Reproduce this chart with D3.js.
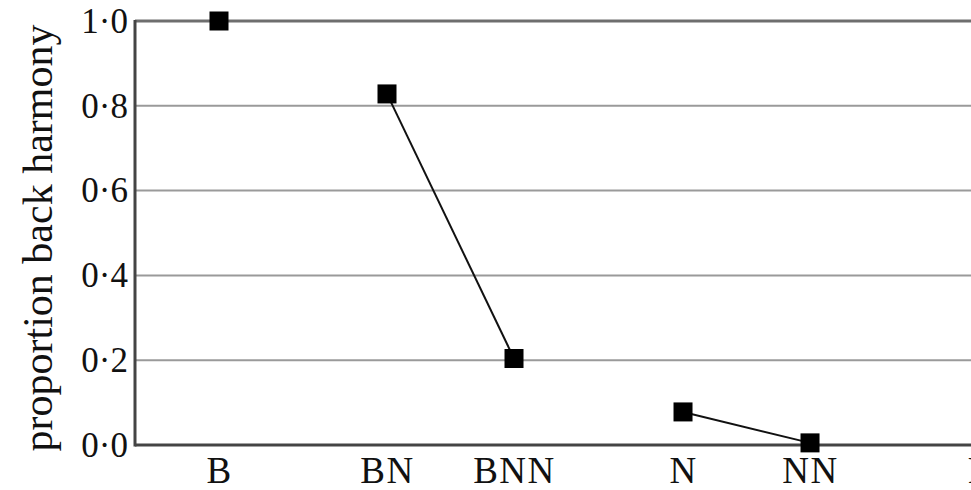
<!DOCTYPE html>
<html>
<head>
<meta charset="utf-8">
<script src="https://cdn.jsdelivr.net/npm/d3@7"></script>
<style>
	body { margin: 0; background: #fff; }
	svg text { font-family: "Liberation Serif", "Times New Roman", serif; fill: #111; }
</style>
</head>
<body>
<svg id="chart"></svg>
<script>
/* Data */

var categories = ["B", "BN", "BNN", "N", "NN", "P"];
var positions = [1, 2, 2.756, 3.762, 4.518, 5.52];
var values = [1.0, 0.828, 0.204, 0.078, 0.005];
var segments = [[1, 2], [3, 4]];   // index pairs joined by a line
var yTicks = [0, 0.2, 0.4, 0.6, 0.8, 1.0];
var yTickLabels = ["0·0", "0·2", "0·4", "0·6", "0·8", "1·0"];

/* Layout */

var W = 971, H = 490;
var margin = {top: 21, left: 135, bottom: 45};

var svg = d3.select("#chart")
	.attr("width", W)
	.attr("height", H);

var x = d3.scaleLinear()
	.domain([0.5, 5.5])
	.range([margin.left, margin.left + 840]);

var y = d3.scaleLinear()
	.domain([0, 1])
	.range([H - margin.bottom, margin.top]);

/* Gridlines */

svg.append("g")
	.selectAll("line")
	.data(yTicks.filter(function(d){ return d > 0; }))
	.enter().append("line")
	.attr("x1", margin.left)
	.attr("x2", W)
	.attr("y1", function(d){ return y(d); })
	.attr("y2", function(d){ return y(d); })
	.attr("stroke", function(d){ return d === 1 ? "#6e6e6e" : "#9a9a9a"; })
	.attr("stroke-width", function(d){ return d === 1 ? 3 : 2; });

/* Axes */

var yAxis = svg.append("g")
	.attr("transform", "translate(" + margin.left + ",0)")
	.call(d3.axisLeft(y).tickValues(yTicks).tickSize(0).tickPadding(7)
		.tickFormat(function(d, i){ return yTickLabels[i]; }));
yAxis.select(".domain").remove();
yAxis.selectAll("text")
	.style("font-size", "35px")
	.attr("fill", "#111");

var xAxis = svg.append("g")
	.attr("transform", "translate(0," + y(0) + ")")
	.call(d3.axisBottom(x).tickValues(positions).tickSize(0).tickPadding(12)
		.tickFormat(function(d, i){ return categories[i]; }));
xAxis.select(".domain").remove();
xAxis.selectAll("text")
	.style("font-size", "37px")
	.style("letter-spacing", "1.5px")
	.attr("fill", "#111");

svg.append("line")
	.attr("x1", margin.left)
	.attr("x2", W)
	.attr("y1", y(0))
	.attr("y2", y(0))
	.attr("stroke", "#444")
	.attr("stroke-width", 3);

svg.append("line")
	.attr("x1", margin.left)
	.attr("x2", margin.left)
	.attr("y1", y(1) - 1)
	.attr("y2", y(0) + 1.5)
	.attr("stroke", "#444")
	.attr("stroke-width", 3);

svg.append("text")
	.attr("transform", "translate(52," + 238 + ") rotate(-90)")
	.attr("text-anchor", "middle")
	.style("font-size", "42px")
	.text("proportion back harmony");

/* Lines */

var line = d3.line()
	.x(function(i){ return x(positions[i]); })
	.y(function(i){ return y(values[i]); });

svg.append("g")
	.selectAll("path")
	.data(segments)
	.enter().append("path")
	.attr("fill", "none")
	.attr("stroke", "#111")
	.attr("stroke-width", 2)
	.attr("d", line);

/* Markers */

var size = 19;
svg.append("g")
	.selectAll("rect")
	.data(values)
	.enter().append("rect")
	.attr("x", function(d, i){ return x(positions[i]) - size / 2; })
	.attr("y", function(d){ return y(d) - size / 2; })
	.attr("width", size)
	.attr("height", size)
	.attr("fill", "#000");
</script>
</body>
</html>
